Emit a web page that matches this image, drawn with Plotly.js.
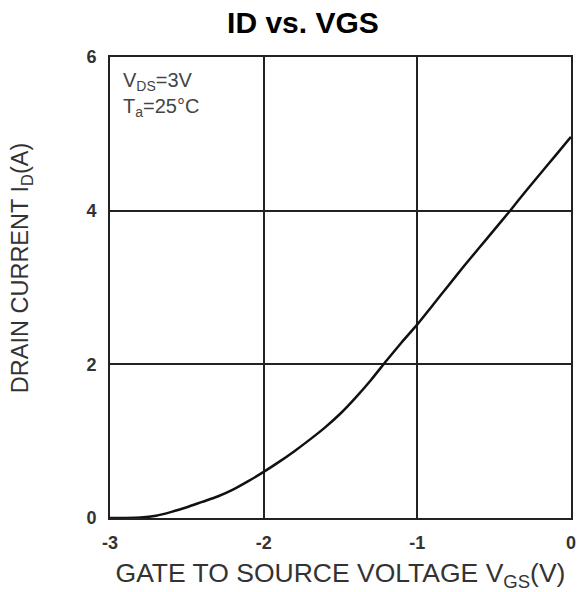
<!DOCTYPE html>
<html>
<head>
<meta charset="utf-8">
<script src="https://cdn.plot.ly/plotly-3.0.1.min.js"></script>
<style>html,body{margin:0;padding:0;background:#fff;}#chart{width:577px;height:592px;}</style>
</head>
<body>
<div id="chart"></div>
<script>
const vgs = [-3.0, -2.9, -2.8, -2.7, -2.6, -2.5, -2.4, -2.3, -2.2, -2.1, -2.0, -1.9, -1.8, -1.7, -1.6, -1.5, -1.4, -1.3, -1.2, -1.1, -1.0, -0.9, -0.8, -0.7, -0.6, -0.5, -0.4, -0.3, -0.2, -0.1, 0.0];
const id  = [0.0, 0.0, 0.005, 0.03, 0.08, 0.14, 0.21, 0.28, 0.37, 0.48, 0.60, 0.73, 0.87, 1.02, 1.18, 1.36, 1.57, 1.80, 2.05, 2.29, 2.52, 2.77, 3.02, 3.27, 3.51, 3.75, 3.99, 4.24, 4.48, 4.72, 4.96];
const xTicks = [-3, -2, -1, 0];
const yTicks = [0, 2, 4, 6];
const titleText = 'ID vs. VGS';
const xTitle = 'GATE TO SOURCE VOLTAGE V<sub>GS</sub>(V)';
const yTitle = 'DRAIN CURRENT I<sub>D</sub>(A)';
const condText = 'V<sub>DS</sub>=3V<br>T<sub>a</sub>=25°C';

const FONT = 'Liberation Sans, Arial, sans-serif';

const trace = {
  x: vgs, y: id, type: 'scatter', mode: 'lines',
  line: {color: '#111', width: 2.5, shape: 'spline', smoothing: 0.6},
  hoverinfo: 'skip', showlegend: false
};

function axis(extra) {
  return Object.assign({
    showline: true, mirror: true, linecolor: '#222', linewidth: 2,
    showgrid: true, gridcolor: '#222', gridwidth: 2,
    zeroline: false, ticks: '', tickmode: 'array',
    tickfont: {family: FONT, size: 18, color: '#333'}
  }, extra);
}

const layout = {
  width: 577, height: 592,
  margin: {l: 110, r: 6, t: 57, b: 74},
  paper_bgcolor: '#fff', plot_bgcolor: '#fff',
  title: {
    text: '<b>' + titleText + '</b>',
    font: {family: FONT, size: 30, color: '#000'},
    xref: 'container', yref: 'container', x: 0.525, xanchor: 'center', y: 0.962, yanchor: 'middle'
  },
  xaxis: axis({
    range: [-3, 0], tickvals: xTicks, ticktext: xTicks.map(v => '<b>' + v + '</b>'),
    ticklabelstandoff: 7,
    title: {text: xTitle, standoff: 12,
      font: {family: FONT, size: 26.5, color: '#333'}}
  }),
  yaxis: axis({
    range: [0, 6], tickvals: yTicks, ticktext: yTicks.map(v => '<b>' + v + '</b>'),
    ticklabelstandoff: 8
  }),
  annotations: [
    {
      text: condText, xref: 'paper', yref: 'paper', x: 0.024, y: 0.978,
      xanchor: 'left', yanchor: 'top', align: 'left', showarrow: false,
      font: {family: FONT, size: 20, color: '#444'}
    },
    {
      text: yTitle, xref: 'paper', yref: 'paper', x: -0.193, y: 0.542,
      xanchor: 'center', yanchor: 'middle', textangle: -90, showarrow: false,
      font: {family: FONT, size: 23.5, color: '#333'}
    }
  ]
};

Plotly.newPlot('chart', [trace], layout, {displayModeBar: false, staticPlot: true});
</script>
</body>
</html>
